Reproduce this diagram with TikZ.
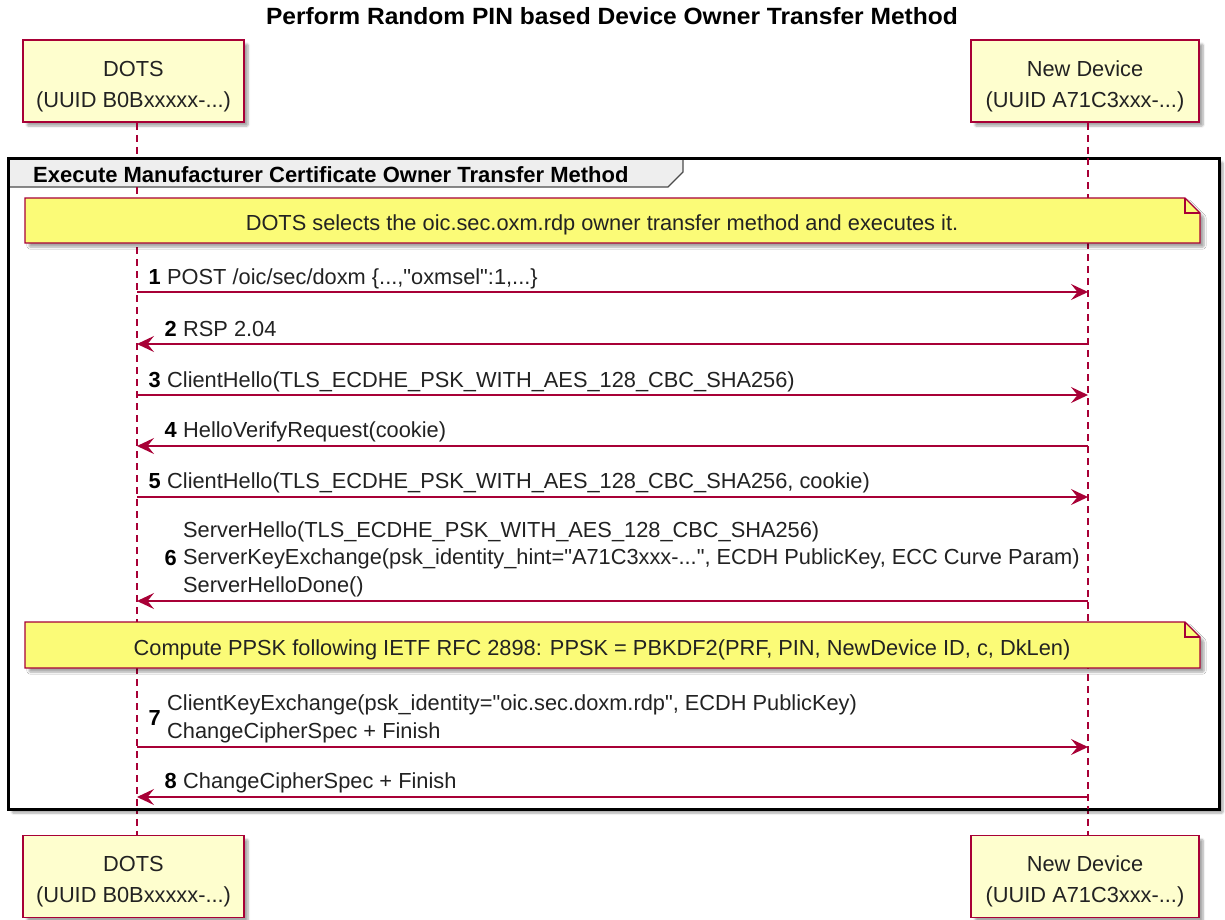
\documentclass[tikz,border=0pt]{standalone}
\usepackage{fontspec}
\setmainfont{Liberation Sans}
% same family without the TeX quote mapping, so " stays straight
\newfontfamily\plainsans{Liberation Sans}
\usetikzlibrary{arrows.meta,shadows.blur}

\definecolor{umlred}{HTML}{A80036}
\definecolor{actorfill}{HTML}{FEFECE}
\definecolor{notefill}{HTML}{FBFB77}
\definecolor{groupfill}{HTML}{EEEEEE}
\definecolor{inkgray}{HTML}{222222}

% stacked message lines, baseline on the last line
\newcommand{\msglines}[1]{\begin{tabular}[b]{@{}l@{}}#1\end{tabular}}

\tikzset{
  softshadow/.style={blur shadow={shadow xshift=4pt, shadow yshift=-4pt,
      shadow blur steps=6, shadow blur extra rounding=1pt, shadow opacity=35}},
  actorbox/.style={draw=umlred, line width=1.5pt, fill=actorfill, softshadow,
      minimum height=82pt, inner sep=0pt},
  actorlabel/.style={align=center, inner sep=0pt,
      font=\plainsans\fontsize{21.8}{31}\selectfont, text=inkgray},
  lifeline/.style={draw=umlred, line width=1.3pt, dash pattern=on 7pt off 5pt},
  msg/.style={draw=umlred, line width=1.4pt, -{Stealth[length=17pt, width=16pt, inset=6.5pt]}},
  msglabel/.style={anchor=base west, inner sep=0pt,
      font=\plainsans\fontsize{21.8}{27.5}\selectfont, text=inkgray},
  msgnum/.style={anchor=base east, inner sep=0pt, font=\plainsans\bfseries\fontsize{21.8}{27.5}\selectfont},
  notetext/.style={anchor=base, inner sep=0pt, font=\plainsans\fontsize{21.8}{27.5}\selectfont, text=inkgray},
  notebody/.style={draw=umlred, line width=1.3pt, fill=notefill},
}

\begin{document}
\begin{tikzpicture}[x=1pt, y=-1pt]
\useasboundingbox (0,0) rectangle (1225,919);

% Title
\node[anchor=base, inner sep=0pt, font=\plainsans\bfseries\fontsize{23.5}{28}\selectfont] (title) at (612,24)
  {\scalebox{1.045}[1]{Perform Random PIN based Device Owner Transfer Method}};

% Participants, top and bottom
\node[actorbox, minimum width=221pt] (dotsT) at (133.5,81) {};
\node[actorbox, minimum width=228pt] (devT) at (1085,81) {};
\node[actorbox, minimum width=221pt] (dotsB) at (133.5,876.5) {};
\node[actorbox, minimum width=228pt] (devB) at (1085,876.5) {};
\node[actorlabel] (dotsTl) at (133.5,86.5) {DOTS\\(UUID B0Bxxxxx-...)};
\node[actorlabel] (devTl) at (1085,86.5) {New Device\\(UUID A71C3xxx-...)};
\node[actorlabel] (dotsBl) at (133.5,881.5) {DOTS\\(UUID B0Bxxxxx-...)};
\node[actorlabel] (devBl) at (1085,881.5) {New Device\\(UUID A71C3xxx-...)};

% Lifelines
\coordinate (dl) at (137,0);
\coordinate (nl) at (1088,0);
\draw[lifeline] (dotsT.south -| dl) -- (dotsB.north -| dl);
\draw[lifeline] (devT.south -| nl) -- (devB.north -| nl);

% Group frame
\path[fill=white, softshadow] (8,158) rectangle (1219,809);
\draw[line width=1.3pt, draw=black!70, fill=groupfill] (8,158) -- (683,158) -- (683,172) -- (668,187) -- (8,187) -- cycle;
\draw[black, line width=3pt] (8,158) rectangle (1219,809);
\draw[lifeline] (137,187) -- (137,809);
\draw[lifeline] (1088,158) -- (1088,809);
\node[anchor=base west, inner sep=0pt, font=\plainsans\bfseries\fontsize{22}{26}\selectfont] (grp) at (33,182)
  {Execute Manufacturer Certificate Owner Transfer Method};

% Note 1
\draw[notebody, softshadow] (25,198) -- (1185,198) -- (1200,213) -- (1200,243) -- (25,243) -- cycle;
\draw[draw=umlred, line width=1.3pt] (1185,198) -- (1185,213) -- (1200,213);
\node[notetext] (note1) at (602,230)
  {DOTS selects the oic.sec.oxm.rdp owner transfer method and executes it.};

% Message anchor points on both lifelines
\foreach \i/\y in {1/292,2/344,3/395,4/446,5/497,6/601,7/747,8/797} {
  \coordinate (d\i) at (137,\y);
  \coordinate (n\i) at (1088,\y);
}

\draw[msg] (d1) -- (n1);
\node[msgnum] (m1n) at (161,284) {1};
\node[msglabel] (m1) at (167,284) {POST /oic/sec/doxm \{...,"oxmsel":1,...\}};

\draw[msg] (n2) -- (d2);
\node[msgnum] (m2n) at (177,336) {2};
\node[msglabel] (m2) at (183,336) {RSP 2.04};

\draw[msg] (d3) -- (n3);
\node[msgnum] (m3n) at (161,387) {3};
\node[msglabel] (m3) at (167,387) {ClientHello(TLS\_ECDHE\_PSK\_WITH\_AES\_128\_CBC\_SHA256)};

\draw[msg] (n4) -- (d4);
\node[msgnum] (m4n) at (177,437) {4};
\node[msglabel] (m4) at (183,437) {HelloVerifyRequest(cookie)};

\draw[msg] (d5) -- (n5);
\node[msgnum] (m5n) at (161,488) {5};
\node[msglabel] (m5) at (167,488) {ClientHello(TLS\_ECDHE\_PSK\_WITH\_AES\_128\_CBC\_SHA256, cookie)};

\draw[msg] (n6) -- (d6);
\node[msgnum] (m6n) at (177,565) {6};
\node[msglabel] (m6) at (183,592)
  {\msglines{ServerHello(TLS\_ECDHE\_PSK\_WITH\_AES\_128\_CBC\_SHA256)\\
   ServerKeyExchange(psk\_identity\_hint="A71C3xxx-...", ECDH PublicKey, ECC Curve Param)\\
   ServerHelloDone()}};

% Note 2
\draw[notebody, softshadow] (25,622) -- (1185,622) -- (1200,637) -- (1200,668) -- (25,668) -- cycle;
\draw[draw=umlred, line width=1.3pt] (1185,622) -- (1185,637) -- (1200,637);
\node[notetext] (note2) at (602,655)
  {Compute PPSK following IETF RFC 2898: PPSK = PBKDF2(PRF, PIN, NewDevice ID, c, DkLen)};

\draw[msg] (d7) -- (n7);
\node[msgnum] (m7n) at (161,725) {7};
\node[msglabel] (m7) at (167,738)
  {\msglines{ClientKeyExchange(psk\_identity="oic.sec.doxm.rdp", ECDH PublicKey)\\
   ChangeCipherSpec + Finish}};

\draw[msg] (n8) -- (d8);
\node[msgnum] (m8n) at (177,788) {8};
\node[msglabel] (m8) at (183,788) {ChangeCipherSpec + Finish};
\end{tikzpicture}
\end{document}
